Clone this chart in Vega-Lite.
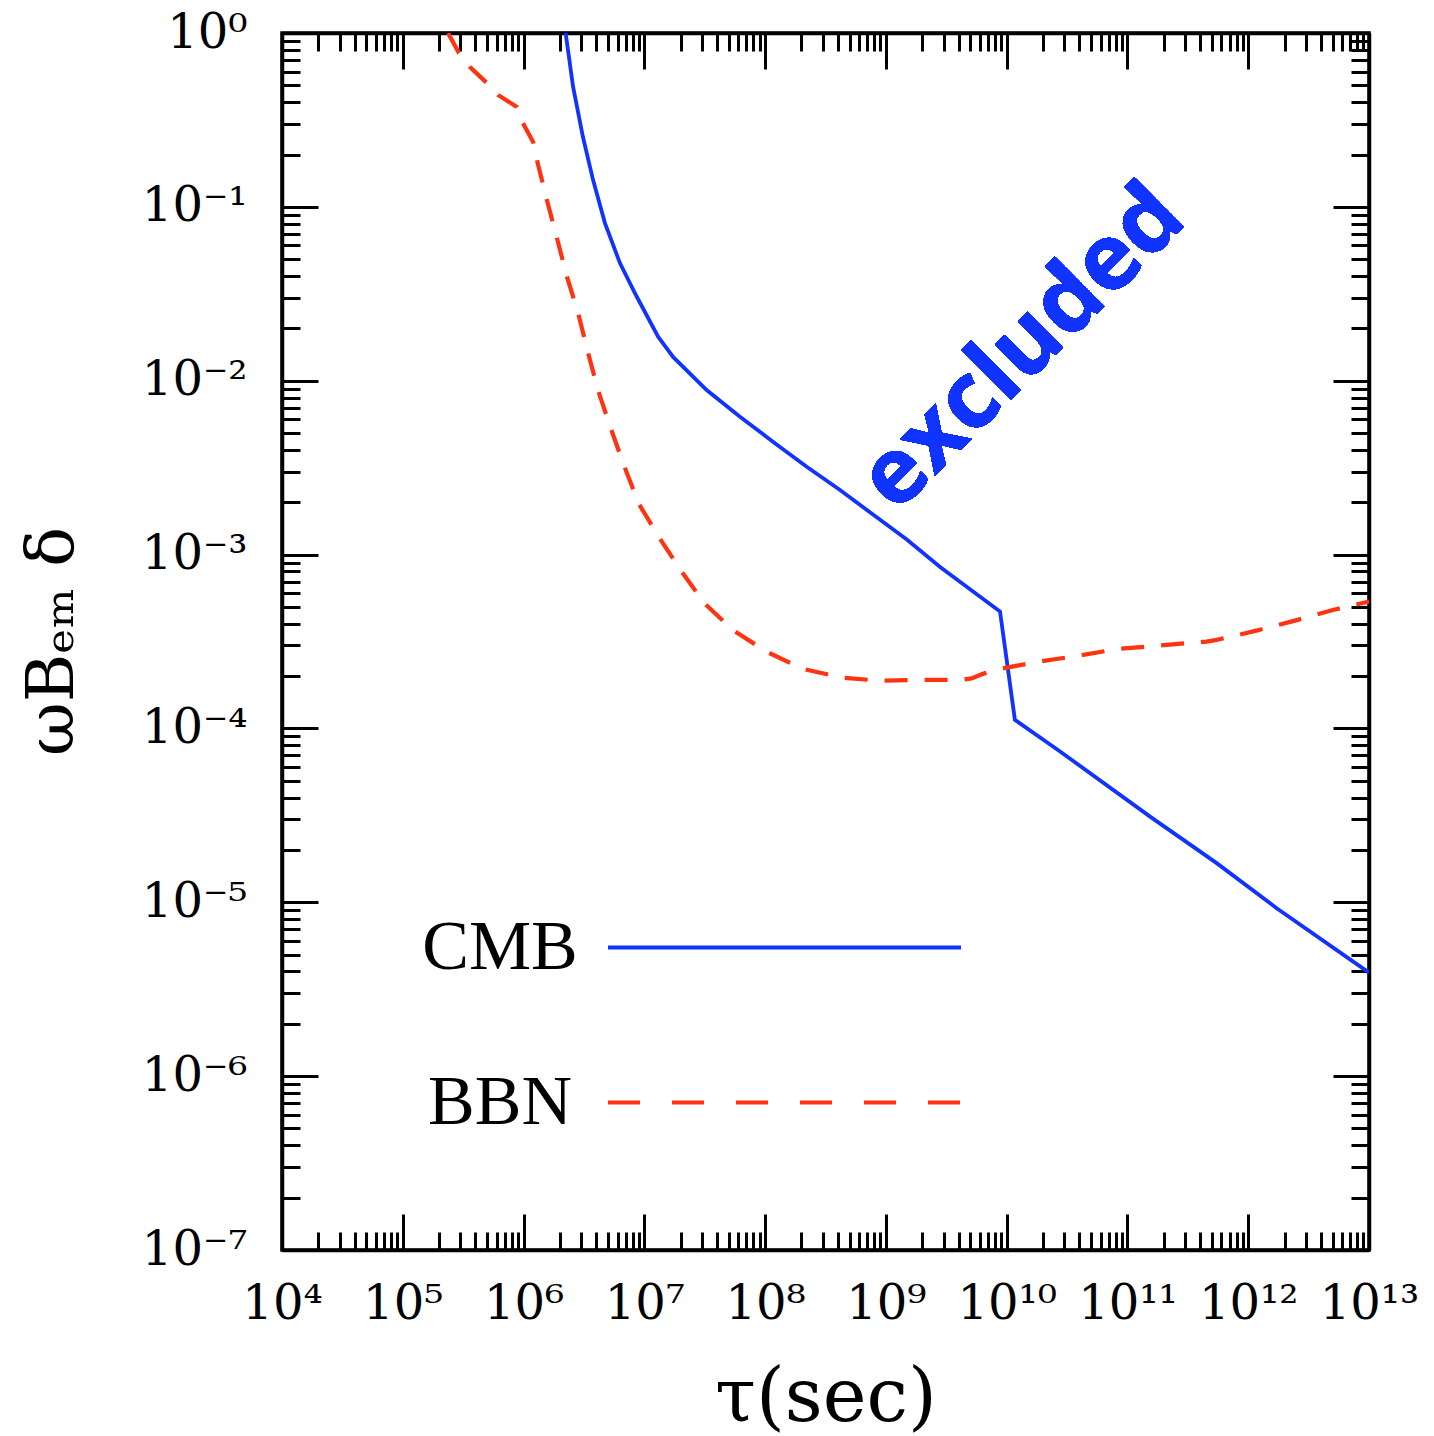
{
  "$schema": "https://vega.github.io/schema/vega-lite/v6.json",
  "width": 1087,
  "height": 1217,
  "autosize": {"type": "none"},
  "padding": {"left": 282, "top": 33, "right": 65, "bottom": 186},
  "background": "white",
  "config": {
    "view": {"stroke": "black", "strokeWidth": 3.5},
    "axis": {
      "grid": false,
      "domainColor": "black",
      "domainWidth": 3.5,
      "tickColor": "black",
      "tickWidth": 3,
      "labelFont": "DejaVu Serif",
      "labelFontSize": 48,
      "labelColor": "black",
      "labelFlush": false,
      "labelOverlap": false,
      "labelLimit": 0,
      "titleFont": "DejaVu Serif",
      "titleFontWeight": "normal",
      "titleColor": "black",
      "titleFontSize": 68
    },
    "legend": {
      "orient": "none",
      "title": null,
      "symbolType": "stroke",
      "symbolSize": 124609,
      "symbolStrokeWidth": 3.8,
      "labelFont": "Liberation Serif",
      "labelFontSize": 70,
      "labelColor": "black",
      "labelAlign": "center",
      "labelOffset": -463,
      "labelLimit": 0
    }
  },
  "datasets": {
    "limits": [
      {"tau": 2.23e6, "limit": 1.0, "probe": "CMB"},
      {"tau": 2.57e6, "limit": 0.491, "probe": "CMB"},
      {"tau": 3.10e6, "limit": 0.253, "probe": "CMB"},
      {"tau": 3.76e6, "limit": 0.143, "probe": "CMB"},
      {"tau": 4.72e6, "limit": 0.0807, "probe": "CMB"},
      {"tau": 6.28e6, "limit": 0.0475, "probe": "CMB"},
      {"tau": 8.64e6, "limit": 0.0305, "probe": "CMB"},
      {"tau": 1.30e7, "limit": 0.0179, "probe": "CMB"},
      {"tau": 1.73e7, "limit": 0.0137, "probe": "CMB"},
      {"tau": 3.28e7, "limit": 0.00883, "probe": "CMB"},
      {"tau": 6.19e7, "limit": 0.00621, "probe": "CMB"},
      {"tau": 1.16e8, "limit": 0.00446, "probe": "CMB"},
      {"tau": 2.21e8, "limit": 0.00320, "probe": "CMB"},
      {"tau": 4.17e8, "limit": 0.00235, "probe": "CMB"},
      {"tau": 7.82e8, "limit": 0.00170, "probe": "CMB"},
      {"tau": 1.49e9, "limit": 0.00122, "probe": "CMB"},
      {"tau": 2.81e9, "limit": 0.000849, "probe": "CMB"},
      {"tau": 8.81e9, "limit": 0.000470, "probe": "CMB"},
      {"tau": 1.17e10, "limit": 0.000112, "probe": "CMB"},
      {"tau": 2.66e10, "limit": 0.0000752, "probe": "CMB"},
      {"tau": 1.54e11, "limit": 0.0000311, "probe": "CMB"},
      {"tau": 5.48e11, "limit": 0.0000168, "probe": "CMB"},
      {"tau": 1.72e12, "limit": 0.00000924, "probe": "CMB"},
      {"tau": 1e13, "limit": 0.00000394, "probe": "CMB"},
      {"tau": 2.37e5, "limit": 1.0, "probe": "BBN"},
      {"tau": 2.92e5, "limit": 0.767, "probe": "BBN"},
      {"tau": 3.60e5, "limit": 0.637, "probe": "BBN"},
      {"tau": 4.98e5, "limit": 0.515, "probe": "BBN"},
      {"tau": 6.14e5, "limit": 0.440, "probe": "BBN"},
      {"tau": 8.83e5, "limit": 0.375, "probe": "BBN"},
      {"tau": 9.89e5, "limit": 0.303, "probe": "BBN"},
      {"tau": 1.20e6, "limit": 0.236, "probe": "BBN"},
      {"tau": 1.29e6, "limit": 0.186, "probe": "BBN"},
      {"tau": 1.56e6, "limit": 0.1095, "probe": "BBN"},
      {"tau": 1.89e6, "limit": 0.0662, "probe": "BBN"},
      {"tau": 2.29e6, "limit": 0.0395, "probe": "BBN"},
      {"tau": 2.83e6, "limit": 0.0245, "probe": "BBN"},
      {"tau": 3.40e6, "limit": 0.0147, "probe": "BBN"},
      {"tau": 4.13e6, "limit": 0.00885, "probe": "BBN"},
      {"tau": 5.26e6, "limit": 0.00535, "probe": "BBN"},
      {"tau": 6.79e6, "limit": 0.00325, "probe": "BBN"},
      {"tau": 9.04e6, "limit": 0.00195, "probe": "BBN"},
      {"tau": 1.32e7, "limit": 0.00126, "probe": "BBN"},
      {"tau": 2.04e7, "limit": 0.000797, "probe": "BBN"},
      {"tau": 3.18e7, "limit": 0.000520, "probe": "BBN"},
      {"tau": 5.42e7, "limit": 0.000368, "probe": "BBN"},
      {"tau": 1.03e8, "limit": 0.000276, "probe": "BBN"},
      {"tau": 2.06e8, "limit": 0.000220, "probe": "BBN"},
      {"tau": 4.31e8, "limit": 0.000196, "probe": "BBN"},
      {"tau": 8.93e8, "limit": 0.000188, "probe": "BBN"},
      {"tau": 1.91e9, "limit": 0.000190, "probe": "BBN"},
      {"tau": 4.11e9, "limit": 0.000190, "probe": "BBN"},
      {"tau": 5.13e9, "limit": 0.000194, "probe": "BBN"},
      {"tau": 6.37e9, "limit": 0.000206, "probe": "BBN"},
      {"tau": 8.81e9, "limit": 0.000220, "probe": "BBN"},
      {"tau": 1.82e10, "limit": 0.000242, "probe": "BBN"},
      {"tau": 3.80e10, "limit": 0.000261, "probe": "BBN"},
      {"tau": 8.15e10, "limit": 0.000286, "probe": "BBN"},
      {"tau": 1.75e11, "limit": 0.000299, "probe": "BBN"},
      {"tau": 4.53e11, "limit": 0.000316, "probe": "BBN"},
      {"tau": 5.48e11, "limit": 0.000323, "probe": "BBN"},
      {"tau": 1.17e12, "limit": 0.000365, "probe": "BBN"},
      {"tau": 2.44e12, "limit": 0.000417, "probe": "BBN"},
      {"tau": 5.03e12, "limit": 0.000480, "probe": "BBN"},
      {"tau": 1e13, "limit": 0.000536, "probe": "BBN"}
    ]
  },
  "data": {"name": "limits"},
  "resolve": {
    "axis": {"x": "independent", "y": "independent"},
    "scale": {"color": "independent"},
    "legend": {"color": "independent"}
  },
  "layer": [
    {
      "transform": [{"filter": "datum.probe === 'CMB'"}],
      "mark": {"type": "line", "strokeWidth": 3.8, "clip": true},
      "encoding": {
        "x": {
          "field": "tau",
          "type": "quantitative",
          "scale": {"type": "log", "domain": [1e4, 1e13], "nice": false},
          "axis": {
            "orient": "bottom",
            "title": "τ(sec)",
            "titleY": 148,
            "titleBaseline": "middle",
            "titleFontSize": 74,
            "values": [1e4,2e4,3e4,4e4,5e4,6e4,7e4,8e4,9e4,1e5,2e5,3e5,4e5,5e5,6e5,7e5,8e5,9e5,1e6,2e6,3e6,4e6,5e6,6e6,7e6,8e6,9e6,1e7,2e7,3e7,4e7,5e7,6e7,7e7,8e7,9e7,1e8,2e8,3e8,4e8,5e8,6e8,7e8,8e8,9e8,1e9,2e9,3e9,4e9,5e9,6e9,7e9,8e9,9e9,1e10,2e10,3e10,4e10,5e10,6e10,7e10,8e10,9e10,1e11,2e11,3e11,4e11,5e11,6e11,7e11,8e11,9e11,1e12,2e12,3e12,4e12,5e12,6e12,7e12,8e12,9e12,1e13],
            "tickSize": {"condition": {"test": "abs(log(datum.value)/LN10 - round(log(datum.value)/LN10)) < 0.001", "value": -36}, "value": -18},
            "labelPadding": 66,
            "labelExpr": "abs(log(datum.value)/LN10 - round(log(datum.value)/LN10)) < 0.001 ? '10' + replace(replace(replace(replace(replace(replace(replace(replace(replace(replace(replace('' + round(log(datum.value)/LN10), regexp('-','g'), '⁻'), regexp('0','g'), '⁰'), regexp('1','g'), '¹'), regexp('2','g'), '²'), regexp('3','g'), '³'), regexp('4','g'), '⁴'), regexp('5','g'), '⁵'), regexp('6','g'), '⁶'), regexp('7','g'), '⁷'), regexp('8','g'), '⁸'), regexp('9','g'), '⁹') : ''"
          }
        },
        "y": {
          "field": "limit",
          "type": "quantitative",
          "scale": {"type": "log", "domain": [1e-7, 1], "nice": false},
          "axis": {
            "orient": "left",
            "title": "ωBₑₘ δ",
            "titleAngle": -90,
            "titleX": -210,
            "titleY": 608,
            "titleAlign": "center",
            "titleBaseline": "alphabetic",
            "titleFontSize": 66,
            "values": [1e-7,2e-7,3e-7,4e-7,5e-7,6e-7,7e-7,8e-7,9e-7,1e-6,2e-6,3e-6,4e-6,5e-6,6e-6,7e-6,8e-6,9e-6,1e-5,2e-5,3e-5,4e-5,5e-5,6e-5,7e-5,8e-5,9e-5,1e-4,2e-4,3e-4,4e-4,5e-4,6e-4,7e-4,8e-4,9e-4,1e-3,2e-3,3e-3,4e-3,5e-3,6e-3,7e-3,8e-3,9e-3,1e-2,2e-2,3e-2,4e-2,5e-2,6e-2,7e-2,8e-2,9e-2,1e-1,2e-1,3e-1,4e-1,5e-1,6e-1,7e-1,8e-1,9e-1,1],
            "tickSize": {"condition": {"test": "abs(log(datum.value)/LN10 - round(log(datum.value)/LN10)) < 0.001", "value": -36}, "value": -18},
            "labelPadding": 71,
            "labelExpr": "abs(log(datum.value)/LN10 - round(log(datum.value)/LN10)) < 0.001 ? '10' + replace(replace(replace(replace(replace(replace(replace(replace(replace(replace(replace('' + round(log(datum.value)/LN10), regexp('-','g'), '⁻'), regexp('0','g'), '⁰'), regexp('1','g'), '¹'), regexp('2','g'), '²'), regexp('3','g'), '³'), regexp('4','g'), '⁴'), regexp('5','g'), '⁵'), regexp('6','g'), '⁶'), regexp('7','g'), '⁷'), regexp('8','g'), '⁸'), regexp('9','g'), '⁹') : ''"
          }
        },
        "color": {
          "field": "probe",
          "type": "nominal",
          "scale": {"domain": ["CMB"], "range": ["#1133ff"]},
          "legend": {"legendX": 324, "legendY": 736}
        }
      }
    },
    {
      "transform": [{"filter": "datum.probe === 'BBN'"}],
      "mark": {"type": "line", "strokeWidth": 4.2, "strokeDash": [23, 17], "clip": true},
      "encoding": {
        "x": {"field": "tau", "type": "quantitative", "scale": {"type": "log", "domain": [1e4, 1e13], "nice": false}, "axis": null},
        "y": {"field": "limit", "type": "quantitative", "scale": {"type": "log", "domain": [1e-7, 1], "nice": false}, "axis": null},
        "color": {
          "field": "probe",
          "type": "nominal",
          "scale": {"domain": ["BBN"], "range": ["#ff3311"]},
          "legend": {
            "legendX": 324,
            "legendY": 891,
            "encode": {"symbols": {"update": {"strokeDash": {"value": [32, 32]}}}}
          }
        }
      }
    },
    {
      "mark": {"type": "line", "opacity": 0},
      "encoding": {
        "x": {
          "field": "tau",
          "type": "quantitative",
          "scale": {"type": "log", "domain": [1e4, 1e13], "nice": false},
          "axis": {
            "orient": "top",
            "title": null,
            "labels": false,
            "values": [1e4,2e4,3e4,4e4,5e4,6e4,7e4,8e4,9e4,1e5,2e5,3e5,4e5,5e5,6e5,7e5,8e5,9e5,1e6,2e6,3e6,4e6,5e6,6e6,7e6,8e6,9e6,1e7,2e7,3e7,4e7,5e7,6e7,7e7,8e7,9e7,1e8,2e8,3e8,4e8,5e8,6e8,7e8,8e8,9e8,1e9,2e9,3e9,4e9,5e9,6e9,7e9,8e9,9e9,1e10,2e10,3e10,4e10,5e10,6e10,7e10,8e10,9e10,1e11,2e11,3e11,4e11,5e11,6e11,7e11,8e11,9e11,1e12,2e12,3e12,4e12,5e12,6e12,7e12,8e12,9e12,1e13],
            "tickSize": {"condition": {"test": "abs(log(datum.value)/LN10 - round(log(datum.value)/LN10)) < 0.001", "value": -36}, "value": -18}
          }
        },
        "y": {
          "field": "limit",
          "type": "quantitative",
          "scale": {"type": "log", "domain": [1e-7, 1], "nice": false},
          "axis": {
            "orient": "right",
            "title": null,
            "labels": false,
            "values": [1e-7,2e-7,3e-7,4e-7,5e-7,6e-7,7e-7,8e-7,9e-7,1e-6,2e-6,3e-6,4e-6,5e-6,6e-6,7e-6,8e-6,9e-6,1e-5,2e-5,3e-5,4e-5,5e-5,6e-5,7e-5,8e-5,9e-5,1e-4,2e-4,3e-4,4e-4,5e-4,6e-4,7e-4,8e-4,9e-4,1e-3,2e-3,3e-3,4e-3,5e-3,6e-3,7e-3,8e-3,9e-3,1e-2,2e-2,3e-2,4e-2,5e-2,6e-2,7e-2,8e-2,9e-2,1e-1,2e-1,3e-1,4e-1,5e-1,6e-1,7e-1,8e-1,9e-1,1],
            "tickSize": {"condition": {"test": "abs(log(datum.value)/LN10 - round(log(datum.value)/LN10)) < 0.001", "value": -36}, "value": -18}
          }
        }
      }
    },
    {
      "mark": {
        "type": "text",
        "text": "excluded",
        "angle": -45,
        "font": "Open Sans",
        "fontWeight": "bold",
        "fontSize": 92,
        "color": "#1133ff",
        "align": "center",
        "baseline": "middle"
      },
      "encoding": {
        "x": {"datum": 1.36e10, "type": "quantitative", "scale": {"type": "log", "domain": [1e4, 1e13], "nice": false}, "axis": null},
        "y": {"datum": 0.0154, "type": "quantitative", "scale": {"type": "log", "domain": [1e-7, 1], "nice": false}, "axis": null}
      }
    }
  ]
}
